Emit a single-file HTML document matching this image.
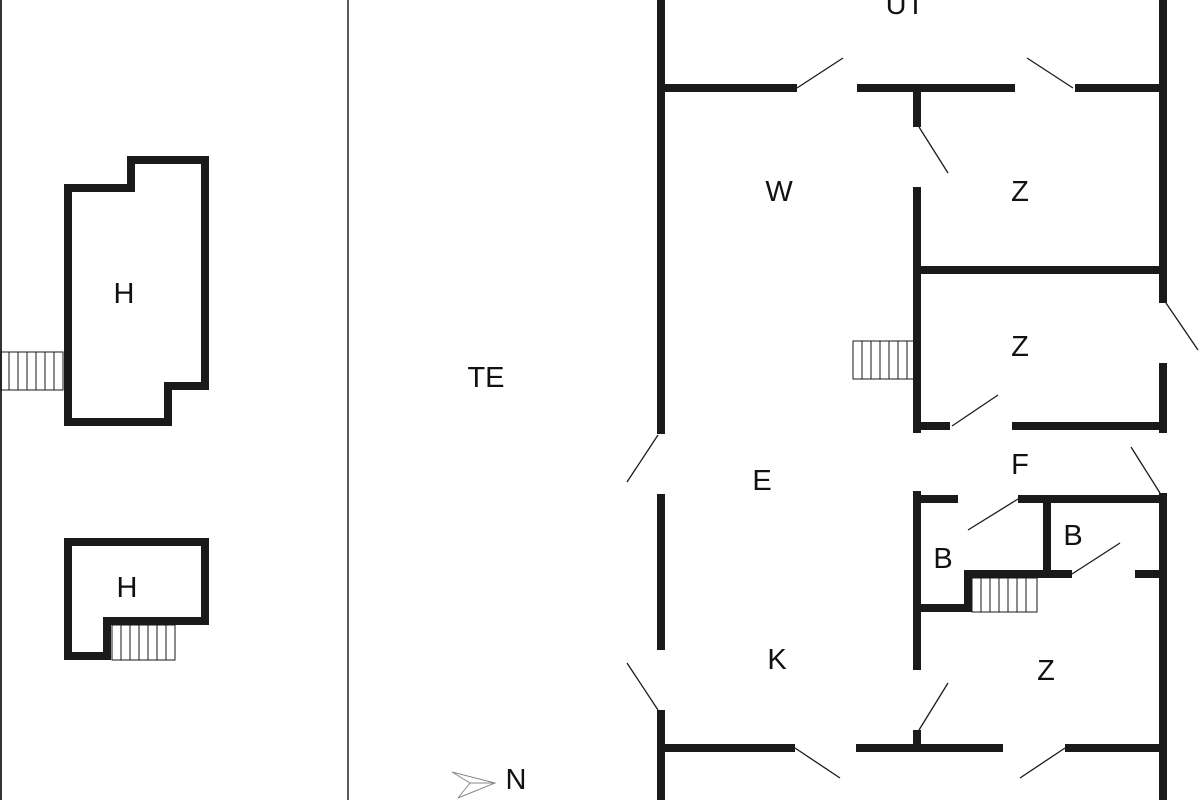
<!DOCTYPE html>
<html><head><meta charset="utf-8"><style>html,body{margin:0;padding:0;background:#fff}svg{display:block}</style></head>
<body>
<svg width="1200" height="800" viewBox="0 0 1200 800" xmlns="http://www.w3.org/2000/svg">
<rect width="1200" height="800" fill="#fff"/>
<line x1="1" y1="0" x2="1" y2="800" stroke="#333" stroke-width="2"/>
<line x1="348" y1="0" x2="348" y2="800" stroke="#222" stroke-width="1.5"/>
<g fill="none" stroke="#1a1a1a" stroke-width="8" stroke-linecap="square">
<polygon points="68,188 131,188 131,160 205,160 205,386 168,386 168,422 68,422"/>
<polygon points="68,542 205,542 205,621 107,621 107,656 68,656"/>
</g>
<g fill="none" stroke="#1a1a1a" stroke-width="1">
<rect x="1" y="352" width="62" height="38"/>
<path d="M9,352V390M18,352V390M27,352V390M36,352V390M45,352V390M54,352V390"/>
<rect x="112" y="625" width="63" height="35"/>
<path d="M121,625V660M130,625V660M139,625V660M148,625V660M157,625V660M166,625V660"/>
<rect x="853" y="341" width="62" height="38"/>
<path d="M862,341V379M871,341V379M880,341V379M889,341V379M898,341V379M907,341V379"/>
<rect x="972" y="578" width="65" height="34"/>
<path d="M981,578V612M990,578V612M999,578V612M1008,578V612M1017,578V612M1026,578V612"/>
</g>
<g stroke="#1a1a1a" stroke-width="8" fill="none">
<path d="M661,0V434M661,494V650M661,710V800"/>
<path d="M1163,0V303M1163,363V433M1163,493V800"/>
<path d="M661,88H797M857,88H1015M1075,88H1163"/>
<path d="M917,88V127M917,187V433"/>
<path d="M917,270H1163"/>
<path d="M917,426H950M1012,426H1163"/>
<path d="M917,491V670M917,730V752"/>
<path d="M917,499H958M1018,499H1163"/>
<path d="M1047,499V578"/>
<path d="M968,574H1072M1135,574H1163"/>
<path d="M968,570V612M917,608H972"/>
<path d="M661,748H795M856,748H1003M1065,748H1163"/>
</g>
<g stroke="#1a1a1a" stroke-width="1.3">
<line x1="797" y1="88" x2="843" y2="58"/>
<line x1="1073" y1="88" x2="1027" y2="58"/>
<line x1="919" y1="127" x2="948" y2="173"/>
<line x1="1166" y1="303" x2="1198" y2="350"/>
<line x1="952" y1="426" x2="998" y2="395"/>
<line x1="1160" y1="493" x2="1131" y2="447"/>
<line x1="658" y1="435" x2="627" y2="482"/>
<line x1="658" y1="710" x2="627" y2="663"/>
<line x1="919" y1="730" x2="948" y2="683"/>
<line x1="1018" y1="499" x2="968" y2="530"/>
<line x1="1072" y1="574" x2="1120" y2="543"/>
<line x1="795" y1="748" x2="840" y2="778"/>
<line x1="1065" y1="748" x2="1020" y2="778"/>
</g>
<g stroke="#888" stroke-width="1" fill="none">
<path d="M452,772L495,783L458,798M452,772L470,783L495,783M470,783L458,798"/>
</g>
<g font-family="Liberation Sans, sans-serif" font-size="29" fill="#111" text-anchor="middle">
<text x="905" y="14">UT</text>
<text x="124" y="303">H</text>
<text x="127" y="597">H</text>
<text x="486" y="387">TE</text>
<text x="779" y="201">W</text>
<text x="1020" y="201">Z</text>
<text x="1020" y="356">Z</text>
<text x="1020" y="474">F</text>
<text x="762" y="490">E</text>
<text x="943" y="568">B</text>
<text x="1073" y="545">B</text>
<text x="777" y="669">K</text>
<text x="1046" y="680">Z</text>
<text x="516" y="789">N</text>
</g>
</svg>
</body></html>
